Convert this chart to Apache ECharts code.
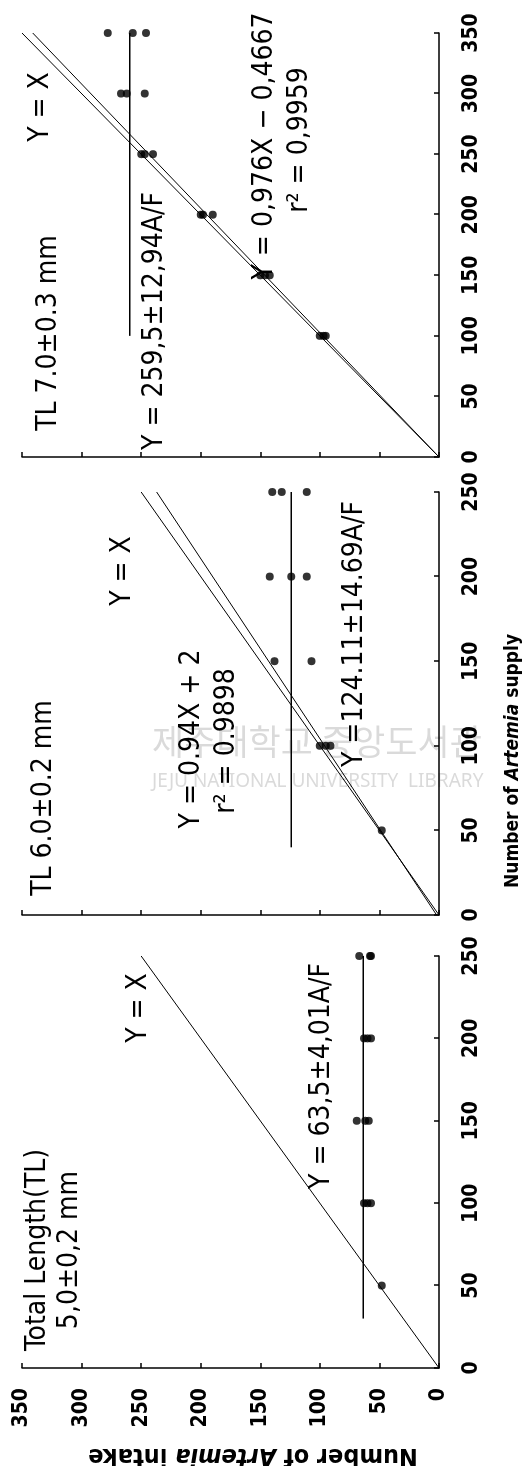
<!DOCTYPE html>
<html>
<head>
<meta charset="utf-8">
<script src="https://cdn.jsdelivr.net/npm/echarts@6/dist/echarts.min.js"></script>
<style>
html, body { margin: 0; padding: 0; background: #fff; overflow: hidden; }
#wrap { width: 529px; height: 1466px; position: relative; overflow: hidden; }
/* chart is drawn landscape, then turned a quarter left like the scan */
#main { position: absolute; left: 0; top: 0; width: 1466px; height: 529px;
        transform-origin: 0 0; transform: translateY(1466px) rotate(-90deg); }
</style>
</head>
<body>
<div id="wrap"><div id="main"></div></div>
<script>
// supply (x) / intake (y) pairs
var dots5 = [[50,48],[100,63],[100,60],[100,57],[150,69],[150,62],[150,59],[200,63],[200,60],[200,57],[250,67],[250,58],[250,57]];
var dots6 = [[50,48],[100,100],[100,95],[100,91],[150,138],[150,107],[200,142],[200,124],[200,111],[250,140],[250,132],[250,111]];
var dots7 = [[100,100],[100,97],[100,95],[150,150],[150,146],[150,142],[200,200],[200,198],[200,190],[250,250],[250,247],[250,240],[300,267],[300,262],[300,247],[350,278],[350,257],[350,246]];

// Y = X lines
var unity5 = [[0,0],[250,250]];
var unity6 = [[0,0],[250,250]];
var unity7 = [[0,0],[350,350]];
// regression lines
var fit6 = [[0,2],[250,237]];
var fit7 = [[0,0],[350,341]];
// plateau (mean) lines
var mean5 = [[30,63.5],[250,63.5]];
var mean6 = [[40,124.11],[250,124.11]];
var mean7 = [[100,259.5],[350,259.5]];

var supplyMax = [250, 250, 350];
var intakeMax = 350;

var FONT = '"DejaVu Sans Condensed", "DejaVu Sans", sans-serif';

var myChart = echarts.init(document.getElementById('main'));

var grids = [
  {left: 98, top: 22, width: 412, height: 417},
  {left: 551, top: 22, width: 423, height: 417},
  {left: 1009, top: 22, width: 424, height: 417}
];

var xAxes = [], yAxes = [];
for (var i = 0; i < 3; i++) {
  xAxes.push({
    gridIndex: i, type: 'value', min: 0, max: supplyMax[i], interval: 50,
    axisLine: {lineStyle: {color: '#000', width: 1.5}},
    axisTick: {inside: true, length: 5, lineStyle: {color: '#000', width: 1.5}},
    axisLabel: {margin: 22, color: '#000', fontFamily: FONT, fontSize: 21, fontWeight: 'bold',
                showMinLabel: true, showMaxLabel: true},
    splitLine: {show: false}
  });
  yAxes.push({
    gridIndex: i, type: 'value', min: 0, max: intakeMax, interval: 50,
    axisLine: {show: true, lineStyle: {color: '#000', width: 1.5}},
    axisTick: {show: true, inside: true, length: 5, lineStyle: {color: '#000', width: 1.5}},
    axisLabel: {show: i === 0, margin: 20, color: '#000', fontFamily: FONT, fontSize: 21, fontWeight: 'bold'},
    splitLine: {show: false}
  });
}

function dots(data, i) {
  return {type: 'scatter', xAxisIndex: i, yAxisIndex: i, data: data, symbol: 'circle',
          symbolSize: 8, itemStyle: {color: '#000'}, silent: true};
}
function line(data, i, w) {
  return {type: 'line', xAxisIndex: i, yAxisIndex: i, data: data, symbol: 'none',
          lineStyle: {color: '#000', width: w}, silent: true};
}

function txt(text, x, y, size) {
  return {type: 'text', x: x, y: y, silent: true,
          style: {text: text, fill: '#000', fontFamily: FONT, fontSize: size || 28,
                  align: 'center', verticalAlign: 'middle'}};
}

var graphics = [
  // faint library watermark (upright in the final picture)
  {type: 'text', x: 724, y: 152, rotation: -Math.PI / 2, silent: true, z: -1,
   style: {text: '제주대학교 중앙도서관', fill: 'rgba(150,150,150,0.35)', fontFamily: '"Noto Sans CJK KR", sans-serif',
           fontSize: 35, align: 'left', verticalAlign: 'middle'}},
  {type: 'text', x: 684, y: 152, rotation: -Math.PI / 2, silent: true, z: -1,
   style: {text: 'JEJU NATIONAL UNIVERSITY  LIBRARY', fill: 'rgba(150,150,150,0.35)', fontFamily: '"Noto Sans", sans-serif',
           fontSize: 19, align: 'left', verticalAlign: 'middle'}},

  txt('Total Length(TL)', 216, 38),
  txt('5,0±0,2 mm', 216, 70),
  txt('Y = X', 458, 139),
  txt('Y = 63,5±4,01A/F', 390, 322),

  txt('TL 6.0±0.2 mm', 668, 44),
  txt('Y = X', 895, 123),
  txt('Y = 0.94X + 2', 727, 192),
  txt('r² = 0.9898', 725, 227),
  txt('Y =124.11±14.69A/F', 832, 355),

  txt('TL 7.0±0.3 mm', 1133, 49),
  txt('Y = X', 1359, 41),
  txt('Y = 259,5±12,94A/F', 1145, 155),
  txt('Y = 0,976X − 0,4667', 1320, 265),
  txt('r² = 0,9959', 1326, 300),

  // axis names
  {type: 'text', x: 578, y: 513, silent: true,
   style: {text: 'Number of {i|Artemia} supply', fill: '#000', fontFamily: FONT, fontSize: 19, fontWeight: 'bold',
           align: 'left', verticalAlign: 'middle',
           rich: {i: {fontStyle: 'italic', fontFamily: FONT, fontSize: 19, fontWeight: 'bold'}}}},
  {type: 'text', x: 10, y: 253, rotation: Math.PI / 2, silent: true,
   style: {text: 'Number of {i|Artemia} intake', fill: '#000', fontFamily: FONT, fontSize: 25, fontWeight: 'bold',
           align: 'center', verticalAlign: 'middle',
           rich: {i: {fontStyle: 'italic', fontFamily: FONT, fontSize: 25, fontWeight: 'bold'}}}}
];

var option = {
  animation: false,
  backgroundColor: '#fff',
  grid: grids,
  xAxis: xAxes,
  yAxis: yAxes,
  series: [
    line(unity5, 0, 1), line(mean5, 0, 1.5), dots(dots5, 0),
    line(unity6, 1, 1), line(fit6, 1, 1), line(mean6, 1, 1.5), dots(dots6, 1),
    line(unity7, 2, 1), line(fit7, 2, 1), line(mean7, 2, 1.5), dots(dots7, 2)
  ],
  graphic: graphics
};
myChart.setOption(option);
</script>
</body>
</html>
